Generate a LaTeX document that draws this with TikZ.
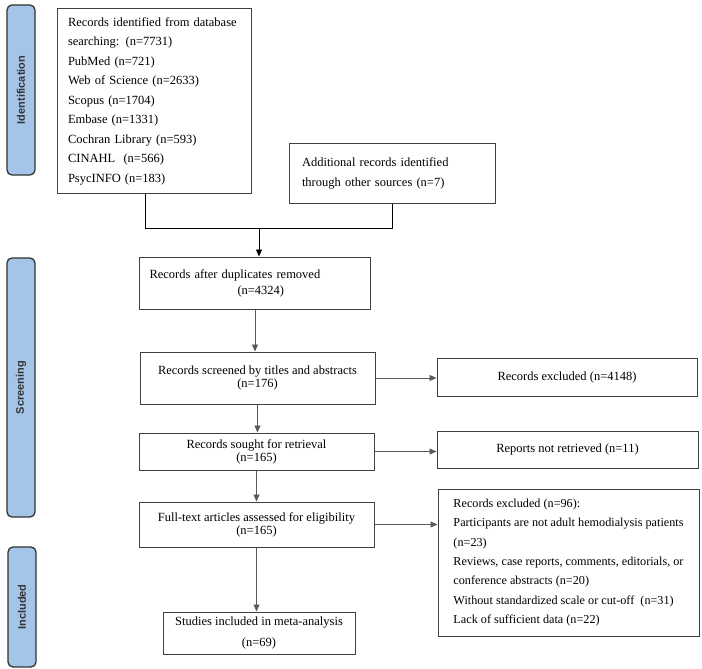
\documentclass[tikz,border=0pt]{standalone}
\usepackage{fontspec}
\setmainfont{Liberation Serif}
\newfontfamily\stagefont{Liberation Sans}
\usetikzlibrary{arrows.meta,calc}
\definecolor{stagefill}{HTML}{A4C4E8}

\begin{document}
\begin{tikzpicture}[
  x=1pt, y=-1pt,
  font=\fontsize{12.5}{15}\selectfont,
  >={Triangle[length=7pt,width=6pt]},
  stage/.style={draw=black!80, line width=1.3pt, fill=stagefill, rounded corners=5pt,
    rotate=90, inner sep=0pt, text=black!80, font=\stagefont\bfseries\fontsize{11}{13}\selectfont},
  box/.style={draw=black!75, line width=1pt, fill=white, inner sep=0pt, align=center},
  listbox/.style={box, align=left},
  flow/.style={->, draw=black!65, line width=0.8pt},
  merge/.style={draw=black, line width=1pt}
]
\path[use as bounding box] (0,0) rectangle (702,669);

\node[stage, minimum width=170pt, minimum height=28pt] (idlab) at (21,90) {Identification};
\node[stage, minimum width=259pt, minimum height=28pt] (scrlab) at (21,387.5) {Screening};
\node[stage, minimum width=120pt, minimum height=28pt] (inclab) at (22,607) {Included};

\node[listbox, minimum width=194pt, minimum height=184pt, text width=172pt,
  font=\fontsize{12.5}{19.5}\selectfont] (db) at (154,101)
  {Records identified from database\\searching: (n=7731)\\PubMed (n=721)\\Web of Science (n=2633)\\
   Scopus (n=1704)\\Embase (n=1331)\\Cochran Library (n=593)\\CINAHL\ \ (n=566)\\PsycINFO (n=183)};
\node[listbox, minimum width=206pt, minimum height=60pt, text width=180pt,
  font=\fontsize{12.5}{20}\selectfont] (add) at (392,173)
  {Additional records identified\\through other sources (n=7)};

\node[listbox, minimum width=231pt, minimum height=52pt, text width=211pt,
  font=\fontsize{12.5}{16}\selectfont] (dup) at (255,283)
  {Records after duplicates removed\\\hspace*{88pt}(n=4324)};
\node[box, minimum width=235pt, minimum height=52pt,
  font=\fontsize{12.5}{13}\selectfont] (scr) at (257.5,378)
  {Records screened by titles and abstracts\\(n=176)};
\node[box, minimum width=235pt, minimum height=37pt,
  font=\fontsize{12.5}{13}\selectfont] (sought) at (256.5,451.5)
  {Records sought for retrieval\\(n=165)};
\node[box, minimum width=235pt, minimum height=45pt,
  font=\fontsize{12.5}{13}\selectfont] (full) at (256.5,524.5)
  {Full-text articles assessed for eligibility\\(n=165)};
\node[box, minimum width=192pt, minimum height=42pt,
  font=\fontsize{12.5}{21}\selectfont] (incl) at (259,633)
  {Studies included in meta-analysis\\(n=69)};

\node[box, minimum width=260pt, minimum height=38pt] (excl) at (567,377) {Records excluded (n=4148)};
\node[box, minimum width=261pt, minimum height=37pt] (notret) at (567.5,449.5) {Reports not retrieved (n=11)};
\node[listbox, minimum width=261pt, minimum height=147pt,
  font=\fontsize{12.2}{19.4}\selectfont] (ex96) at (568.5,562.5)
  {Records excluded (n=96):\\Participants are not adult hemodialysis patients\\(n=23)\\
   Reviews, case reports, comments, editorials, or\\conference abstracts (n=20)\\
   Without standardized scale or cut-off\ \ (n=31)\\Lack of sufficient data (n=22)};

\coordinate (mL) at (145,228);
\coordinate (mR) at (392,228);
\coordinate (mC) at (259,228);
\draw[merge] (db.south -| mL) -- (mL) -- (mR) -- (add.south);
\draw[flow, draw=black] (mC) -- (mC |- dup.north);

\draw[flow] (dup.south) -- (dup.south |- scr.north);
\draw[flow] (scr.south) -- (scr.south |- sought.north);
\draw[flow] (sought.south) -- (sought.south |- full.north);
\draw[flow] (full.south) -- (full.south |- incl.north);

\draw[flow] (scr.east) -- (scr.east -| excl.west);
\draw[flow] (sought.east) -- (sought.east -| notret.west);
\draw[flow] (full.east) -- (full.east -| ex96.west);
\end{tikzpicture}
\end{document}
